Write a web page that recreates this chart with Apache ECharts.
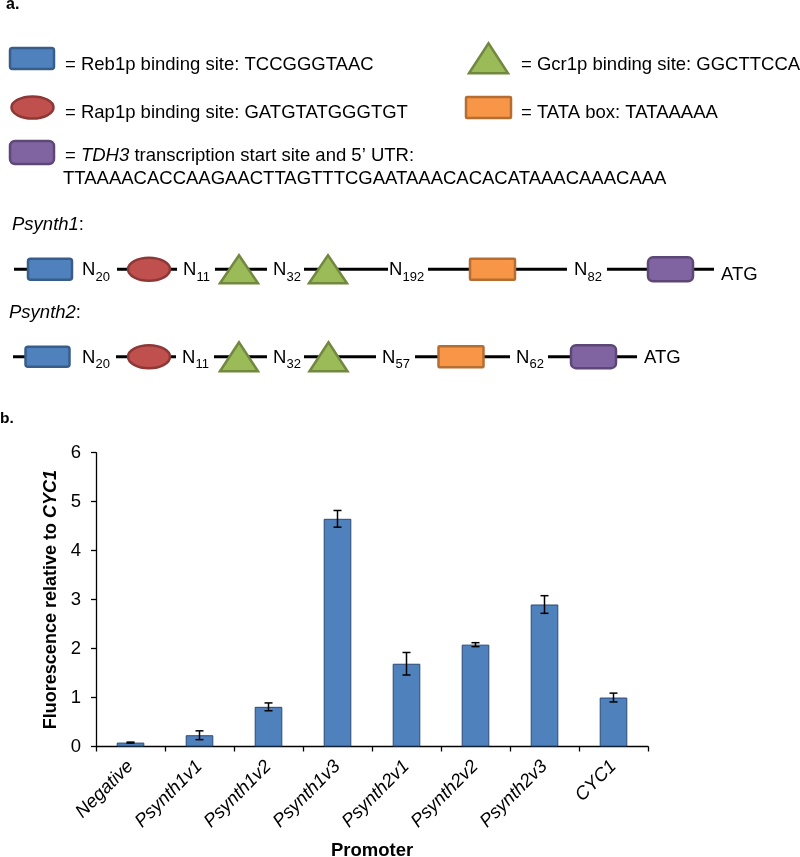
<!DOCTYPE html>
<html>
<head>
<meta charset="utf-8">
<script src="https://cdn.jsdelivr.net/npm/echarts@6/dist/echarts.min.js"></script>
<style>html,body{margin:0;padding:0;background:#fff}#c{width:800px;height:857px}</style>
</head>
<body>
<div id="c"></div>
<script>
// ---------- DATA ----------
const categories = ['Negative','Psynth1v1','Psynth1v2','Psynth1v3','Psynth2v1','Psynth2v2','Psynth2v3','CYC1'];
const values = [0.08, 0.23, 0.81, 4.65, 1.69, 2.08, 2.90, 1.00];
const errors = [0.01, 0.09, 0.08, 0.17, 0.23, 0.04, 0.18, 0.09];
const yTicks = [0, 1, 2, 3, 4, 5, 6];

const legendLabels = {
  reb1: '= Reb1p binding site: TCCGGGTAAC',
  rap1: '= Rap1p binding site: GATGTATGGGTGT',
  gcr1: '= Gcr1p binding site: GGCTTCCA',
  tata: '= TATA box: TATAAAAA',
  tdh3: '= {i|TDH3} transcription start site and 5\u2019 UTR:',
  tdh3seq: 'TTAAAACACCAAGAACTTAGTTTCGAATAAACACACATAAACAAACAAA'
};
const psynth1Parts = ['reb1','N20','rap1','N11','gcr1','N32','gcr1','N192','tata','N82','tdh3','ATG'];
const psynth2Parts = ['reb1','N20','rap1','N11','gcr1','N32','gcr1','N57','tata','N62','tdh3','ATG'];

// ---------- LAYOUT / STYLE ----------
const FONT = "'Liberation Sans', Arial, Helvetica, sans-serif";
const MID = 0.3465; // canvas middle -> alphabetic baseline offset (em)
const shapeStyle = {
  reb1: {fill:'#4F81BD', stroke:'#385D8A'},
  rap1: {fill:'#C0504D', stroke:'#8C3836'},
  gcr1: {fill:'#9BBB59', stroke:'#71893F'},
  tata: {fill:'#F79646', stroke:'#B66D31'},
  tdh3: {fill:'#8064A2', stroke:'#5C4776'}
};
// per-row layout: shapes -> [centerX, lineStart, lineEnd, height]; labels -> x
const row1Layout = {y:269.3, pos:[[50,14,72,21],82,[149,117,177,23],183,[239,215,267,28],273,[328,304,388,28],389,[492.5,428,567,21],574,[670.5,607,714,24],721], atgBase:281};
const row2Layout = {y:356.7, pos:[[47.5,13,69,20],82,[149,116,176,23],182,[239,214,267,29],273,[328.5,304,376,29],382,[461,415,510,21],516,[593.5,548,637,23],644], atgBase:364};

function text(x, base, str, fs, extra) {
  const st = Object.assign({
    x: x, y: base - MID*fs, text: str, fontSize: fs, fontFamily: FONT, fill: '#000',
    textAlign: 'left', align: 'left', textVerticalAlign: 'middle', verticalAlign: 'middle'
  }, extra || {});
  return {type:'text', z: 10, style: st};
}
function shape(kind, cx, cy, w, h) {
  const s = shapeStyle[kind];
  const base = {fill: s.fill, stroke: s.stroke, lineWidth: 2.5};
  if (kind === 'rap1') return {type:'ellipse', z:5, shape:{cx:cx, cy:cy, rx:w/2, ry:h/2}, style:base};
  if (kind === 'gcr1') return {type:'polygon', z:5, shape:{points:[[cx-w/2, cy+h/2],[cx, cy-h/2],[cx+w/2, cy+h/2]]}, style:Object.assign({}, base, {lineJoin:'miter'})};
  const r = kind === 'tdh3' ? 5 : (kind === 'reb1' ? 2.5 : 1);
  return {type:'rect', z:5, shape:{x:cx-w/2, y:cy-h/2, width:w, height:h, r:r}, style:base};
}
const shapeWidth = {reb1:44, rap1:42, gcr1:38, tata:45, tdh3:45};

function buildRow(parts, lay) {
  const out = [];
  parts.forEach((p, i) => {
    const L = lay.pos[i];
    if (shapeStyle[p]) {
      out.push({type:'line', z:3, shape:{x1:L[1], y1:lay.y, x2:L[2], y2:lay.y}, style:{stroke:'#000', lineWidth:3}});
      out.push(shape(p, L[0], lay.y, shapeWidth[p], L[3]));
    } else if (p === 'ATG') {
      out.push(text(L, lay.atgBase, 'ATG', 18.5));
    } else {
      const nBase = lay.y + 7.5;
      out.push(text(L, nBase, 'N', 18.5));
      out.push(text(L + 13.6, nBase + 5, p.slice(1), 13));
    }
  });
  return out;
}

const italicRich = {i:{fontStyle:'italic', fontSize:18.5, fontFamily:FONT, fill:'#000'}, n:{fontSize:18.5, fontFamily:FONT, fill:'#000'}};

const graphics = [
  text(6, 10.5, 'a.', 16, {fontWeight:'bold'}),
  text(0, 424, 'b.', 15.5, {fontWeight:'bold'}),
  // legend
  shape('reb1', 32, 58.5, 44, 21),
  text(65, 71, legendLabels.reb1, 18.5),
  shape('rap1', 32.5, 107.5, 42, 22),
  text(65, 119, legendLabels.rap1, 18.5),
  shape('tdh3', 32, 152.5, 44, 23),
  text(65, 162, legendLabels.tdh3, 18.5, {rich: italicRich}),
  text(63, 185, legendLabels.tdh3seq, 18.5),
  shape('gcr1', 488.5, 58.3, 39, 30),
  text(521, 71, legendLabels.gcr1, 18.5),
  shape('tata', 488.5, 107.5, 45, 21),
  text(521, 119, legendLabels.tata, 18.5),
  // row titles
  text(12, 231, '{i|Psynth1}{n|:}', 18.5, {rich: italicRich}),
  text(9, 319.5, '{i|Psynth2}{n|:}', 18.5, {rich: italicRich})
].concat(buildRow(psynth1Parts, row1Layout), buildRow(psynth2Parts, row2Layout));

// ---------- CHART ----------
const chart = echarts.init(document.getElementById('c'), null, {renderer:'canvas'});
const errData = values.map((v, i) => [i, v, errors[i]]);

chart.setOption({
  animation: false,
  backgroundColor: '#fff',
  graphic: graphics,
  grid: {left: 96, right: 152, top: 452.7, bottom: 110.5, containLabel: false, outerBoundsMode: 'none'},
  xAxis: {
    type: 'category',
    data: categories,
    boundaryGap: true,
    name: 'Promoter',
    nameLocation: 'middle',
    nameGap: 95,
    nameTextStyle: {fontSize: 18.5, fontWeight: 'bold', fontFamily: FONT, color: '#000'},
    axisLine: {lineStyle: {color: '#000', width: 1.3}},
    axisTick: {show: true, length: 5, interval: 0, lineStyle: {color: '#000', width: 1.3}},
    axisLabel: {interval: 0, rotate: 45, fontSize: 18.5, fontStyle: 'italic', fontFamily: FONT, color: '#000', margin: 17}
  },
  yAxis: {
    type: 'value',
    min: yTicks[0],
    max: yTicks[yTicks.length - 1],
    interval: 1,
    name: '{t|Fluorescence relative to }{i|CYC1}',
    nameLocation: 'middle',
    nameGap: 29,
    nameTextStyle: {
      fontSize: 18, fontWeight: 'bold', fontFamily: FONT, color: '#000',
      rich: {
        t: {fontSize: 18, fontWeight: 'bold', fontFamily: FONT, color: '#000'},
        i: {fontSize: 18, fontWeight: 'bold', fontStyle: 'italic', fontFamily: FONT, color: '#000'}
      }
    },
    splitLine: {show: false},
    axisLine: {show: true, lineStyle: {color: '#000', width: 1.3}},
    axisTick: {show: true, length: 5, lineStyle: {color: '#000', width: 1.3}},
    axisLabel: {fontSize: 18.5, fontFamily: FONT, color: '#000', margin: 15}
  },
  series: [
    {
      type: 'bar',
      data: values,
      barWidth: '40%',
      itemStyle: {color: '#4F81BD', borderColor: '#2B4A73', borderWidth: 1},
      z: 2
    },
    {
      type: 'custom',
      data: errData,
      z: 5,
      renderItem: function (params, api) {
        const i = api.value(0), v = api.value(1), e = api.value(2);
        const top = api.coord([i, v + e]);
        const bot = api.coord([i, v - e]);
        const cap = 4;
        const st = {stroke: '#000', lineWidth: 1.5};
        return {
          type: 'group',
          children: [
            {type: 'line', shape: {x1: top[0], y1: top[1], x2: bot[0], y2: bot[1]}, style: st},
            {type: 'line', shape: {x1: top[0] - cap, y1: top[1], x2: top[0] + cap, y2: top[1]}, style: st},
            {type: 'line', shape: {x1: bot[0] - cap, y1: bot[1], x2: bot[0] + cap, y2: bot[1]}, style: st}
          ]
        };
      }
    }
  ]
});
</script>
</body>
</html>
